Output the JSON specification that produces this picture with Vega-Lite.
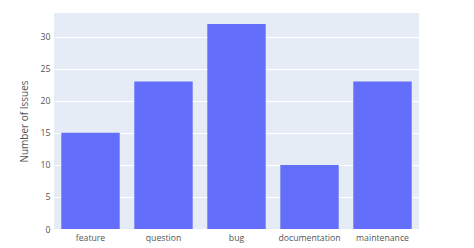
{
  "$schema": "https://vega.github.io/schema/vega-lite/v6.json",
  "autosize": {"type": "none"},
  "width": 365,
  "height": 216,
  "padding": {"left": 54, "top": 13, "right": 55, "bottom": 19},
  "background": "white",
  "data": {"values": [
    {"label": "feature", "count": 15},
    {"label": "question", "count": 23},
    {"label": "bug", "count": 32},
    {"label": "documentation", "count": 10},
    {"label": "maintenance", "count": 23}
  ]},
  "mark": {"type": "bar", "color": "#636efa"},
  "encoding": {
    "x": {
      "field": "label", "type": "nominal", "sort": null,
      "scale": {"paddingInner": 0.2, "paddingOuter": 0.1},
      "axis": {"title": null, "labelAngle": 0, "domain": false, "ticks": false, "labelPadding": 4, "labelFontSize": 8.7, "labelColor": "#555", "labelFont": "Open Sans"}
    },
    "y": {
      "field": "count", "type": "quantitative",
      "scale": {"domain": [0, 33.7], "nice": false},
      "axis": {"title": "Number of Issues", "values": [0, 5, 10, 15, 20, 25, 30], "domain": false, "ticks": false, "labelPadding": 4, "labelFontSize": 8.7, "labelColor": "#555", "labelFont": "Open Sans", "titleFont": "Open Sans", "titleFontSize": 10, "titleFontWeight": "normal", "titleColor": "#555", "titlePadding": 11, "gridColor": "white", "gridWidth": 1}
    }
  },
  "config": {"view": {"fill": "#e5ecf6", "stroke": null}}
}
